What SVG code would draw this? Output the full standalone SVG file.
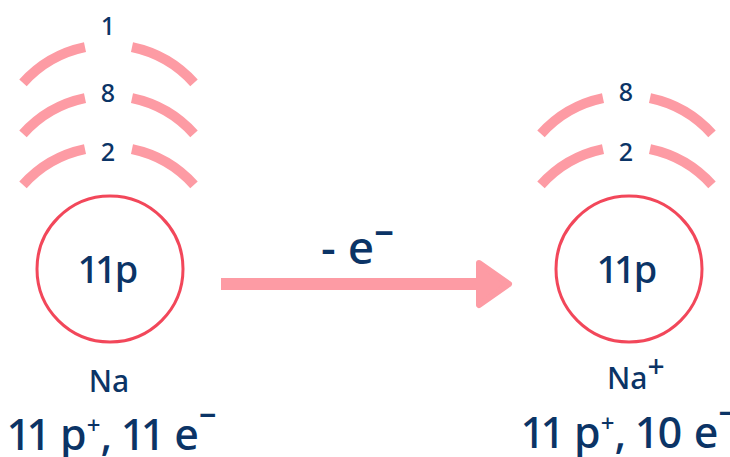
<svg xmlns="http://www.w3.org/2000/svg" width="730" height="457" viewBox="0 0 730 457">
<style>
.t{font-family:"Noto Sans","Open Sans","Liberation Sans",sans-serif;fill:#0b3466;font-weight:500;font-feature-settings:"pnum" 1;font-variant-numeric:proportional-nums;}
.shell{fill:none;stroke:#fd9ba4;stroke-width:10;}
.nuc{fill:#ffffff;stroke:#f2475a;stroke-width:3;}
.conn{stroke:#fd9ba4;}
</style>
<defs>
<g id="arcs">
<path class="shell" d="M 23 82.8 A 115 115 0 0 1 85 47.1"/>
<path class="shell" d="M 132 47.1 A 115 115 0 0 1 194 82.8"/>
</g>
</defs>
<rect width="730" height="457" fill="#ffffff"/>
<g id="na-atom">
<use href="#arcs"/>
<use href="#arcs" y="51"/>
<use href="#arcs" y="102"/>
<text class="t" x="108" y="35" font-size="25" text-anchor="middle">1</text>
<text class="t" x="108" y="102" font-size="25" text-anchor="middle">8</text>
<text class="t" x="108" y="161" font-size="25" text-anchor="middle">2</text>
<circle class="nuc" cx="110" cy="269" r="73"/>
<text class="t" x="109" y="283" font-size="38" text-anchor="middle">11p</text>
<text class="t" x="109" y="392" font-size="30" text-anchor="middle">Na</text>
<text class="t" x="9" y="450" font-size="43">11 p<tspan font-size="24" dy="-16">+</tspan><tspan dy="16">, 11 e</tspan><tspan font-size="30" dy="-24" font-weight="bold">−</tspan></text>
</g>
<g id="na-ion">
<use href="#arcs" x="518" y="51"/>
<use href="#arcs" x="518" y="102"/>
<text class="t" x="626" y="101" font-size="25" text-anchor="middle">8</text>
<text class="t" x="626" y="161" font-size="25" text-anchor="middle">2</text>
<circle class="nuc" cx="629" cy="269" r="73"/>
<text class="t" x="628" y="283" font-size="38" text-anchor="middle">11p</text>
<text class="t" x="607" y="389" font-size="30">Na<tspan font-size="30" dy="-12">+</tspan></text>
<text class="t" x="523" y="448" font-size="43">11 p<tspan font-size="24" dy="-16">+</tspan><tspan dy="16">, 10 e</tspan><tspan font-size="30" dy="-24" font-weight="bold">−</tspan></text>
</g>
<g id="connectors">
<line class="conn" x1="221" y1="284" x2="485" y2="284" stroke-width="12"/>
<polygon points="479,263 509,284 479,305" fill="#fd9ba4" stroke="#fd9ba4" stroke-width="6" stroke-linejoin="round"/>
<text class="t" x="321" y="264" font-size="46">- e<tspan font-size="34" dy="-19" font-weight="bold">−</tspan></text>
</g>
</svg>
